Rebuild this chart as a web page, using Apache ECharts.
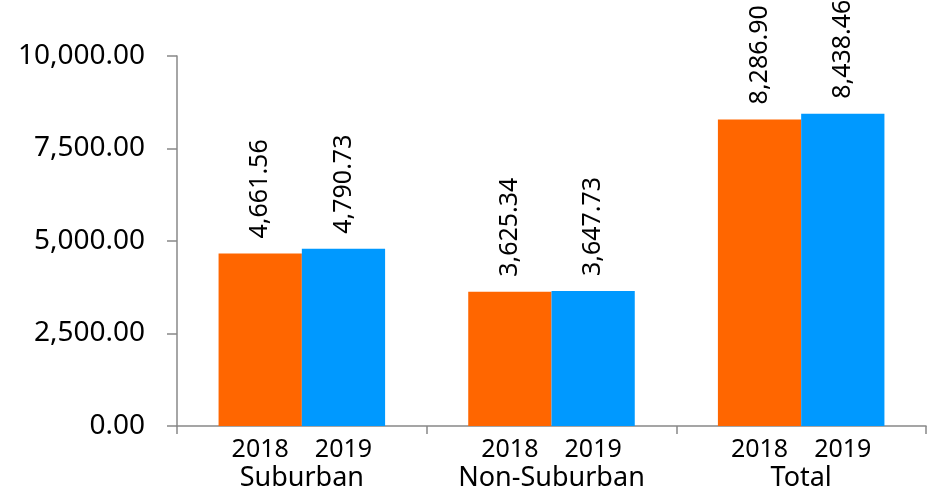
<!DOCTYPE html>
<html>
<head>
<meta charset="utf-8">
<script src="https://cdn.jsdelivr.net/npm/echarts@6/dist/echarts.min.js"></script>
<style>
  html, body { margin: 0; padding: 0; background: #fff; }
  #main { width: 932px; height: 504px; }
</style>
</head>
<body>
<div id="main"></div>
<script>
const categories = ["Suburban", "Non-Suburban", "Total"];
const years = ["2018", "2019"];
const values2018 = [4661.56, 3625.34, 8286.9];
const values2019 = [4790.73, 3647.73, 8438.46];
const yTicks = { min: 0, max: 10000, interval: 2500 };

const fmt = (v) =>
  Number(v).toLocaleString("en-US", { minimumFractionDigits: 2, maximumFractionDigits: 2 });

const font = "Noto Sans";
const colors = ["#FF6600", "#0099FF"];

// zero-height bars at the bottom of each stack carry the year label under the bar
function yearSeries(year, stack) {
  return {
    type: "bar",
    stack: stack,
    data: categories.map(() => 0),
    itemStyle: { color: "transparent" },
    label: {
      show: true,
      position: "bottom",
      distance: 11,
      formatter: () => year,
      color: "#000",
      fontFamily: font,
      fontSize: 25,
    },
    silent: true,
  };
}

function valueSeries(values, stack, color) {
  return {
    type: "bar",
    stack: stack,
    data: values,
    barCategoryGap: "33.3%",
    barGap: "0%",
    itemStyle: { color: color },
    label: {
      show: true,
      position: "top",
      rotate: 90,
      align: "left",
      verticalAlign: "middle",
      distance: 15,
      formatter: (p) => fmt(p.value),
      color: "#000",
      fontFamily: font,
      fontSize: 25,
    },
  };
}

const chart = echarts.init(document.getElementById("main"));
chart.setOption({
  animation: false,
  textStyle: { fontFamily: font },
  grid: { left: 177, right: 6, top: 56, bottom: 78 },
  xAxis: {
    type: "category",
    data: categories,
    axisLine: { lineStyle: { color: "#888", width: 1.5 } },
    axisTick: { show: true, length: 8, lineStyle: { color: "#888", width: 1.5 } },
    axisLabel: { margin: 39, color: "#000", fontSize: 27, fontFamily: font },
  },
  yAxis: {
    type: "value",
    min: yTicks.min,
    max: yTicks.max,
    interval: yTicks.interval,
    splitLine: { show: false },
    axisLine: { show: true, lineStyle: { color: "#888", width: 1.5 } },
    axisTick: { show: true, length: 10, lineStyle: { color: "#888", width: 1.5 } },
    axisLabel: { margin: 32, color: "#000", fontSize: 28, fontFamily: font, formatter: fmt },
  },
  series: [
    yearSeries(years[0], "a"),
    valueSeries(values2018, "a", colors[0]),
    yearSeries(years[1], "b"),
    valueSeries(values2019, "b", colors[1]),
  ],
});
</script>
</body>
</html>
